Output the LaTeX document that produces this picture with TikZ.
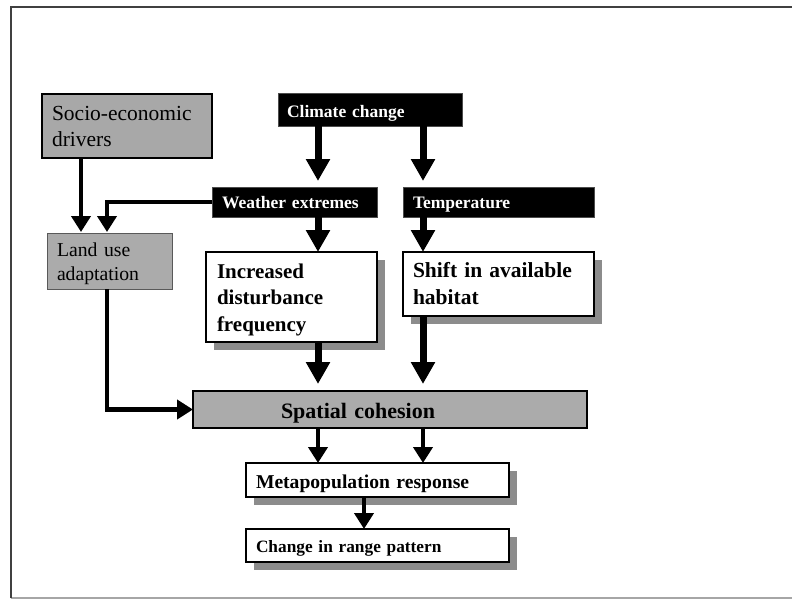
\documentclass[tikz,border=0pt]{standalone}
\usepackage{fontspec}
\setmainfont{Liberation Serif}
\usetikzlibrary{arrows.meta,shadows}
\tikzset{
  base/.style={rectangle, anchor=north west, outer sep=0pt, inner ysep=0pt, align=left},
  graybox/.style={base, fill=black!34, draw=black, line width=2.5pt},
  landbox/.style={base, fill=black!33, draw=black!65, line width=1pt},
  darkbox/.style={base, fill=black, draw=black!70, line width=1pt, text=white,
    font=\bfseries\fontsize{17.5}{21}\selectfont},
  whitebox/.style={base, fill=white, draw=black, line width=2.2pt,
    drop shadow={shadow xshift=8pt, shadow yshift=-8pt, fill=black!45, opacity=1}},
  spatialbox/.style={base, fill=black!33, draw=black, line width=1.6pt},
  thickarrow/.style={line width=7pt, -{Triangle[width=23pt,length=22pt]}},
  thinarrow/.style={line width=4.5pt, -{Triangle[width=19pt,length=16pt]}},
}
\begin{document}
\begin{tikzpicture}[x=1pt,y=-1pt]
\useasboundingbox (0,0) rectangle (792,600);
% background
\shade[left color=white, middle color=black!15, right color=white] (11,7) rectangle (792,598);
\draw[line width=1.5pt, black!35] (11,598) -- (792,598);
\draw[line width=2pt, black!75] (11,598) -- (11,7) -- (792,7);

% nodes
\node[graybox, minimum width=170pt, minimum height=64pt, inner xsep=10pt, text width=150pt,
  text height=16pt, font=\fontsize{21.5}{26}\selectfont] (socio) at (42,94) {Socio-economic\\drivers};
\node[darkbox, minimum width=184pt, minimum height=33pt, inner xsep=9pt, text width=166pt,
  text height=15.4pt, text depth=0.4pt] (climate) at (278,93) {Climate change};
\node[darkbox, minimum width=165pt, minimum height=30pt, inner xsep=10pt, text width=145pt,
  text height=12.4pt, text depth=0.4pt] (weather) at (212,187) {Weather extremes};
\node[darkbox, minimum width=191pt, minimum height=30pt, inner xsep=10pt, text width=171pt,
  text height=12.4pt, text depth=0.4pt] (temp) at (403,187) {Temperature};
\node[landbox, minimum width=125pt, minimum height=56pt, inner xsep=10pt, text width=105pt,
  text height=18.3pt, font=\fontsize{19.7}{24}\selectfont] (land) at (47,233) {Land use\\adaptation};
\node[whitebox, minimum width=171pt, minimum height=90pt, inner xsep=11pt, text width=149pt,
  text height=20pt, font=\bfseries\fontsize{21}{26.7}\selectfont] (incr) at (206,252) {Increased\\disturbance\\frequency};
\node[whitebox, minimum width=191pt, minimum height=64pt, inner xsep=10pt, text width=171pt,
  text height=15pt, font=\bfseries\fontsize{21.5}{27}\selectfont] (shift) at (403,252) {Shift in available\\habitat};
\node[spatialbox, minimum width=394pt, minimum height=37pt, inner xsep=10pt, text width=374pt,
  text height=17.4pt, text depth=0.4pt,
  font=\bfseries\fontsize{22}{26}\selectfont] (spatial) at (193,391) {\hspace*{78pt}Spatial cohesion};
\node[whitebox, minimum width=263pt, minimum height=34pt, inner xsep=10pt, text width=243pt,
  text height=17pt, text depth=0.4pt,
  font=\bfseries\fontsize{19.6}{23}\selectfont] (meta) at (246,463) {Metapopulation response};
\node[whitebox, minimum width=263pt, minimum height=33pt, inner xsep=10pt, text width=243pt,
  text height=14.8pt, text depth=0.4pt,
  font=\bfseries\fontsize{17.3}{21}\selectfont] (change) at (246,529) {Change in range pattern};

% connector columns
\coordinate (xa) at (318,0);
\coordinate (xb) at (423,0);
\coordinate (xc) at (81,0);
\coordinate (xd) at (107,0);
\coordinate (xe) at (364,0);

% connectors
\draw[thickarrow, shorten >=6pt] (climate.south -| xa) -- (weather.north -| xa);
\draw[thickarrow, shorten >=6pt] (climate.south -| xb) -- (temp.north -| xb);
\draw[thickarrow] (weather.south -| xa) -- (incr.north -| xa);
\draw[thickarrow] (temp.south -| xb) -- (shift.north -| xb);
\draw[thickarrow, shorten >=7pt] (incr.south -| xa) -- (spatial.north -| xa);
\draw[thickarrow, shorten >=7pt] (shift.south -| xb) -- (spatial.north -| xb);
\draw[thinarrow, shorten >=1pt] (socio.south -| xc) -- (land.north -| xc);
\draw[thinarrow, shorten >=1pt] (weather.west) -| (land.north -| xd);
\draw[thinarrow] (land.south -| xd) |- (spatial.west);
\draw[thinarrow] (spatial.south -| xa) -- (meta.north -| xa);
\draw[thinarrow] (spatial.south -| xb) -- (meta.north -| xb);
\draw[thinarrow] (meta.south -| xe) -- (change.north -| xe);
\end{tikzpicture}
\end{document}
